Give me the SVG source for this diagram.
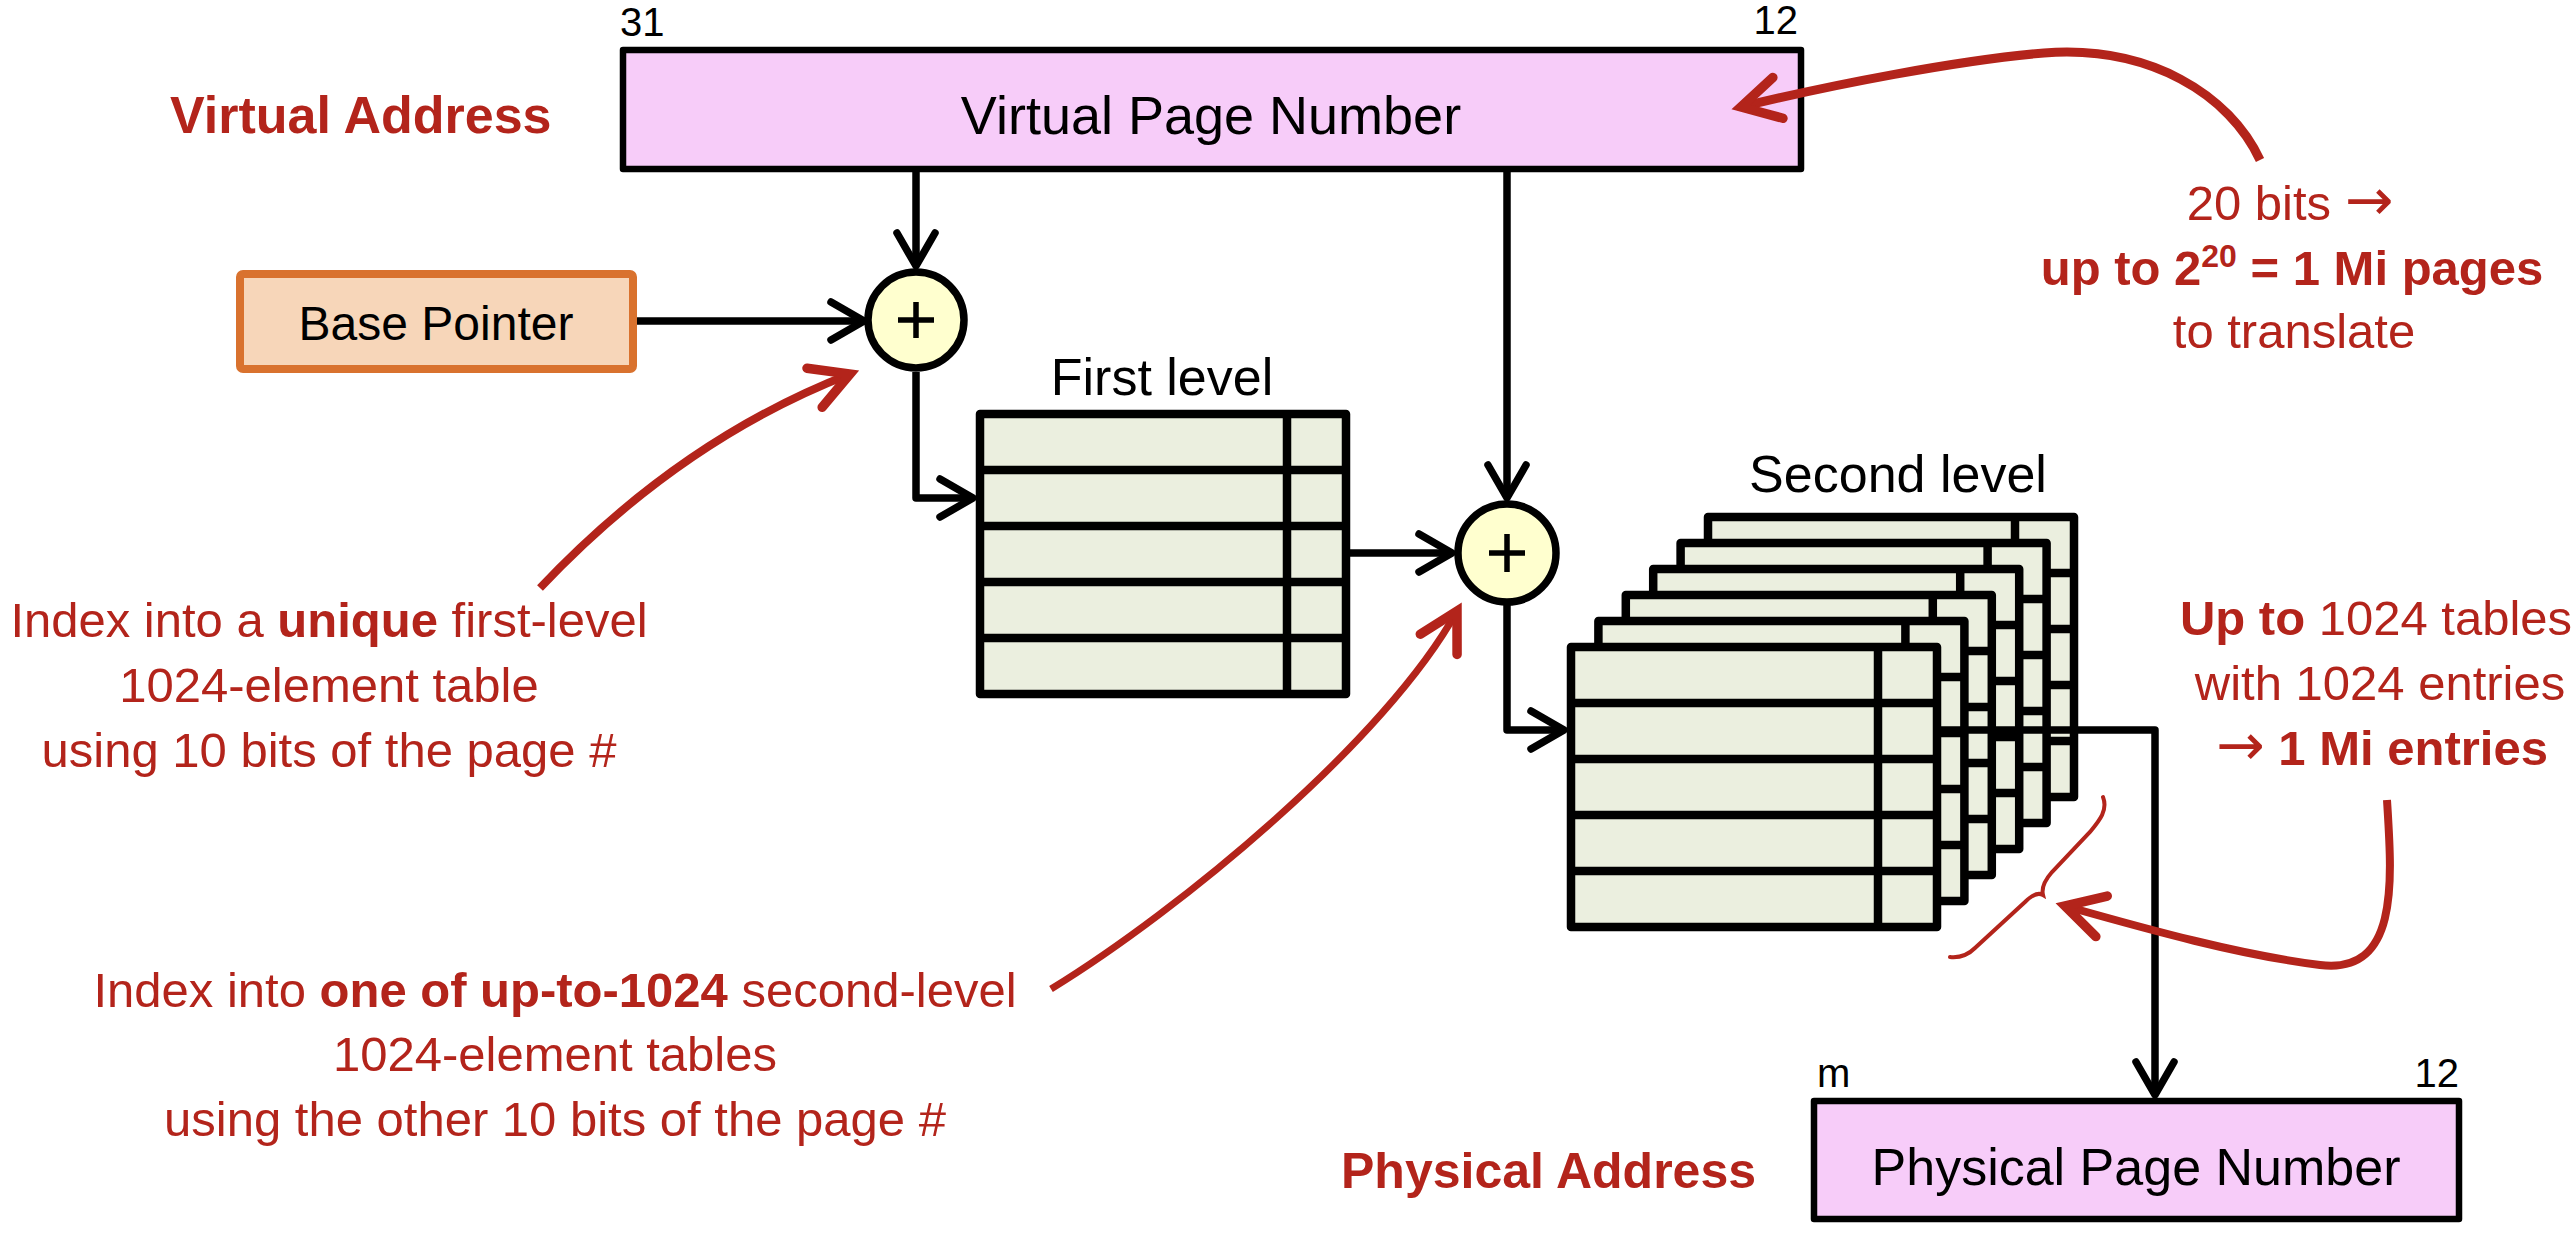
<svg xmlns="http://www.w3.org/2000/svg" xmlns:xlink="http://www.w3.org/1999/xlink" width="2576" height="1234" viewBox="0 0 2576 1234">
<style>
text{font-family:"Liberation Sans",Arial,"DejaVu Sans",sans-serif;}
.blk{fill:#000;}
.red{fill:#B3241B;}
.b{font-weight:bold;}
.arw{font-family:"DejaVu Sans",sans-serif;font-weight:normal;}
.addr{fill:#F7CCF9;stroke:#000;stroke-width:6.5;stroke-linejoin:round;}
.tbl{fill:#EBEFDF;stroke:#000;stroke-width:8.5;stroke-linejoin:round;}
.tline{fill:none;stroke:#000;stroke-width:8.5;}
.sum{fill:#FFFFCF;stroke:#000;stroke-width:7.5;}
.plus{fill:none;stroke:#000;stroke-width:5.5;}
.conn{fill:none;stroke:#000;stroke-width:7.5;stroke-linejoin:round;marker-end:url(#ah);}
.rarr{fill:none;stroke:#B3241B;stroke-width:8;stroke-linecap:butt;marker-end:url(#rah);}
</style>
<defs>
<marker id="ah" markerUnits="userSpaceOnUse" orient="auto" markerWidth="80" markerHeight="80" viewBox="-40 -40 80 80" refX="0" refY="0" overflow="visible">
<path d="M-33,-19 L0,0 L-33,19" fill="none" stroke="#000" stroke-width="7.5" stroke-linecap="round" stroke-linejoin="round"/>
</marker>
<marker id="rah" markerUnits="userSpaceOnUse" orient="auto" markerWidth="80" markerHeight="80" viewBox="-40 -40 80 80" refX="0" refY="0" overflow="visible">
<path d="M-38,-21 L0,0 L-38,21" fill="none" stroke="#B3241B" stroke-width="9.5" stroke-linecap="round" stroke-linejoin="miter"/>
</marker>
<g id="tbl">
<rect x="0" y="0" width="366" height="280" class="tbl"/>
<path d="M0,56H366M0,112H366M0,168H366M0,224H366M307,0V280" class="tline"/>
</g>
</defs>
<rect x="0" y="0" width="2576" height="1234" fill="#fff"/>

<g id="virtual-address">
<text x="170" y="133" font-size="52" class="red b">Virtual Address</text>
<text x="620" y="36" font-size="40" class="blk">31</text>
<text x="1798" y="34" font-size="40" class="blk" text-anchor="end">12</text>
<rect x="623" y="50" width="1178" height="119" class="addr"/>
<text x="1211" y="134" font-size="54" class="blk" text-anchor="middle">Virtual Page Number</text>
</g>

<g id="base-pointer">
<rect x="240" y="274" width="393" height="95" rx="3" fill="#F7D6B9" stroke="#D9722E" stroke-width="8"/>
<text x="436" y="340" font-size="48" class="blk" text-anchor="middle">Base Pointer</text>
</g>

<g id="adder1">
<circle cx="916" cy="320" r="48" class="sum"/>
<path d="M898,320H934M916,302V338" class="plus"/>
</g>

<g id="first-level">
<text x="1162" y="395" font-size="52" class="blk" text-anchor="middle">First level</text>
<use xlink:href="#tbl" href="#tbl" x="980" y="414"/>
</g>

<g id="adder2">
<circle cx="1507" cy="553" r="49" class="sum"/>
<path d="M1489,553H1525M1507,534V572" class="plus"/>
</g>

<g id="second-level">
<text x="1898" y="492" font-size="52" class="blk" text-anchor="middle">Second level</text>
<use xlink:href="#tbl" href="#tbl" x="1708" y="517"/>
<use xlink:href="#tbl" href="#tbl" x="1680.6" y="543"/>
<use xlink:href="#tbl" href="#tbl" x="1653.2" y="569"/>
<use xlink:href="#tbl" href="#tbl" x="1625.8" y="595"/>
<use xlink:href="#tbl" href="#tbl" x="1598.4" y="621"/>
<use xlink:href="#tbl" href="#tbl" x="1571" y="647"/>
</g>

<g id="physical-address">
<text x="1341" y="1188" font-size="50" class="red b">Physical Address</text>
<text x="1817" y="1087" font-size="40" class="blk">m</text>
<text x="2459" y="1087" font-size="40" class="blk" text-anchor="end">12</text>
<rect x="1814" y="1101" width="645" height="118" class="addr"/>
<text x="2136" y="1185" font-size="52" class="blk" text-anchor="middle">Physical Page Number</text>
</g>

<g id="connectors">
<path d="M916,172V266" class="conn"/>
<path d="M637,321H864" class="conn"/>
<path d="M916,372V498H973" class="conn"/>
<path d="M1349,553H1452" class="conn"/>
<path d="M1507,172V498" class="conn"/>
<path d="M1507,605V730H1564" class="conn"/>
<path d="M1941,730H2155V1095" class="conn"/>
</g>

<g id="annotations">
<path d="M540,588 Q680,440 850,374" class="rarr"/>
<path d="M1051,989 C1180,910 1386,740 1457,611" class="rarr" style="stroke-width:7"/>
<path d="M2260,160 C2230,95 2150,45 2044,53 C1960,60 1830,85 1741,107" class="rarr" style="stroke-width:9"/>
<path d="M2387,800 C2392,880 2400,975 2320,965 C2240,955 2150,930 2065,906" class="rarr"/>
<path d="M2103,797 C2108,810 2100,820 2090,832 L2052,872 C2045,880 2041,887 2043,895 C2038,892 2031,896 2025,902 L1975,948 C1968,955 1960,958 1950,957" fill="none" stroke="#B3241B" stroke-width="4" stroke-linecap="round"/>
</g>

<g id="note-first-level" class="red" font-size="49" text-anchor="middle">
<text x="329" y="637">Index into a <tspan class="b">unique</tspan> first-level</text>
<text x="329" y="702">1024-element table</text>
<text x="329" y="767">using 10 bits of the page #</text>
</g>

<g id="note-second-level" class="red" font-size="49" text-anchor="middle">
<text x="555" y="1007">Index into <tspan class="b">one of up-to-1024</tspan> second-level</text>
<text x="555" y="1071">1024-element tables</text>
<text x="555" y="1136">using the other 10 bits of the page #</text>
</g>

<g id="note-vpn" class="red" font-size="49" text-anchor="middle">
<text x="2290" y="220">20 bits <tspan class="arw" font-size="58">→</tspan></text>
<text x="2292" y="285" class="b">up to 2<tspan dy="-18" font-size="32">20</tspan><tspan dy="18"> = 1 Mi pages</tspan></text>
<text x="2294" y="348">to translate</text>
</g>

<g id="note-tables" class="red" font-size="49" text-anchor="middle">
<text x="2376" y="635"><tspan class="b">Up to</tspan> 1024 tables</text>
<text x="2380" y="700">with 1024 entries</text>
<text x="2382" y="765"><tspan class="arw" font-size="58">→</tspan> <tspan class="b">1 Mi entries</tspan></text>
</g>
</svg>
